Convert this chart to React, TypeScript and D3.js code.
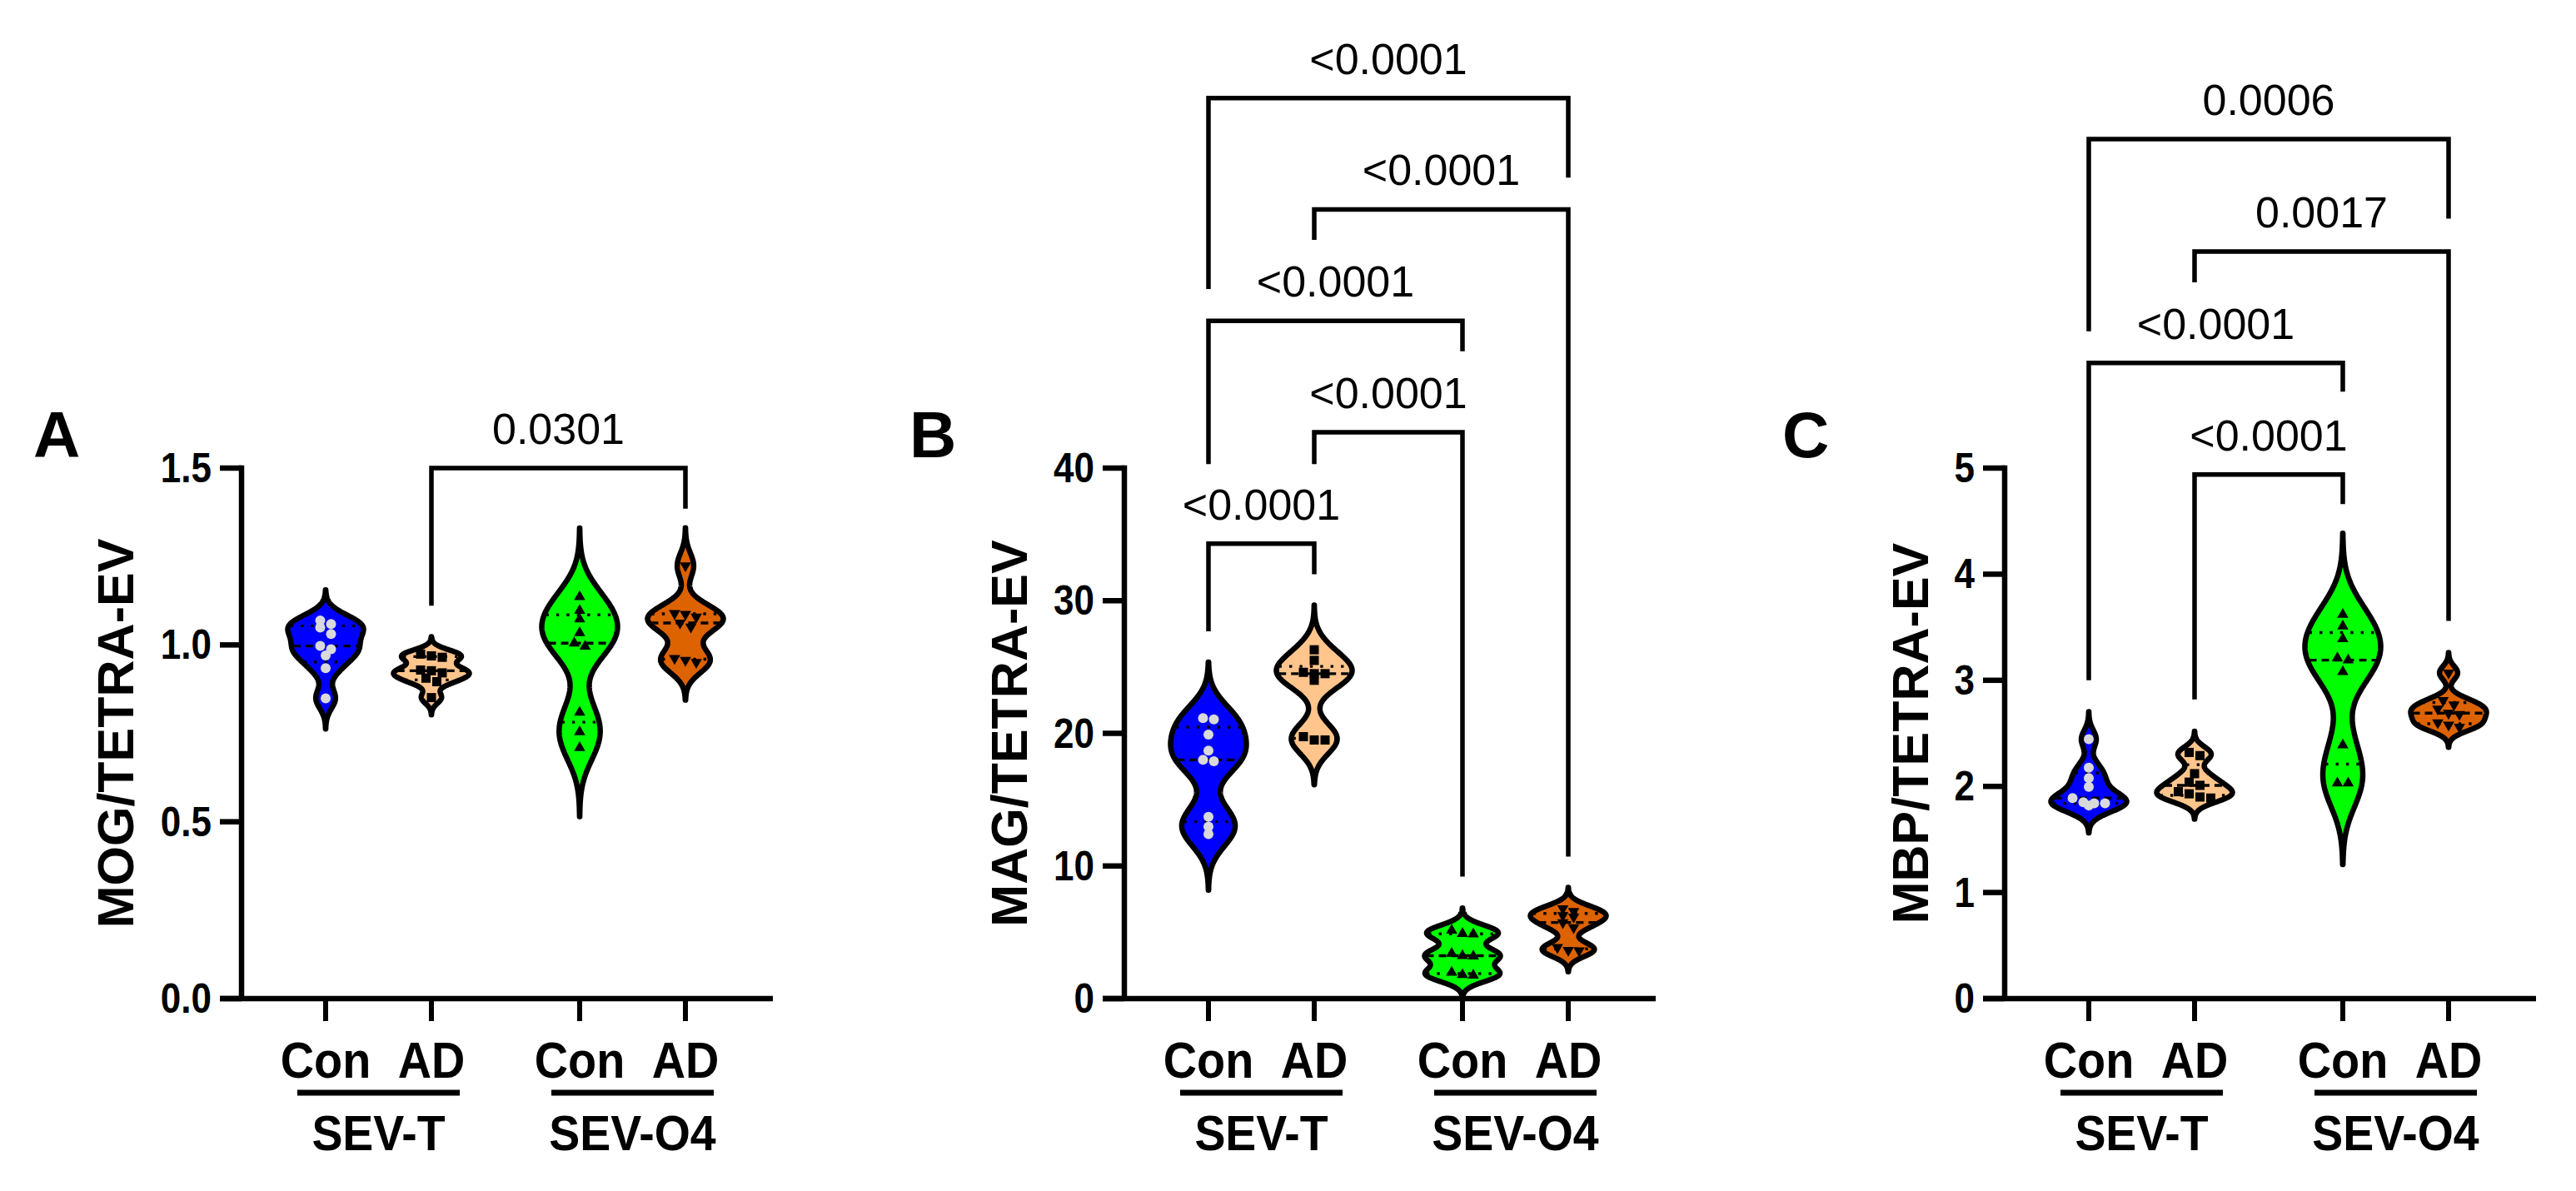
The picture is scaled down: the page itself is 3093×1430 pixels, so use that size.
import React from 'react';
import * as d3 from 'd3';

// groups on the x axis
const groups = ['SEV-T', 'SEV-O4'];
const conditions = ['Con', 'AD'];

// MOG / TETRA-EV (panel A), n = 9 per group
const mogConT = [1.069, 1.059, 1.049, 1.031, 0.997, 0.988, 0.97, 0.934, 0.849];
const mogAdT = [0.974, 0.969, 0.965, 0.929, 0.927, 0.921, 0.906, 0.896, 0.851];
const mogConO4 = [1.136, 1.097, 1.073, 1.034, 1.005, 0.996, 0.809, 0.754, 0.709];
const mogAdO4 = [1.224, 1.089, 1.087, 1.079, 1.062, 1.051, 0.962, 0.957, 0.951];

// MAG / TETRA-EV (panel B)
const magConT = [21.15, 21.05, 19.9, 18.7, 18.0, 17.9, 13.7, 12.97, 12.4];
const magAdT = [26.3, 25.5, 24.6, 24.5, 24.5, 24.0, 19.75, 19.5, 19.5];
const magConO4 = [5.15, 4.9, 4.86, 3.4, 3.23, 3.2, 1.97, 1.8, 1.76];
const magAdO4 = [6.79, 6.58, 6.27, 6.16, 5.74, 5.36, 3.86, 3.65, 3.62];

// MBP / TETRA-EV (panel C)
const mbpConT = [2.445, 2.176, 2.079, 1.995, 1.89, 1.85, 1.84, 1.84, 1.82];
const mbpAdT = [2.32, 2.29, 2.12, 2.04, 2.01, 1.95, 1.93, 1.9, 1.89];
const mbpConO4 = [3.62, 3.51, 3.39, 3.21, 3.19, 3.08, 2.39, 2.03, 2.03];
const mbpAdO4 = [3.07, 2.81, 2.77, 2.73, 2.69, 2.68, 2.6, 2.58, 2.56];

// y ticks
const mogTicks = [0, 0.5, 1.0, 1.5];
const magTicks = [0, 10, 20, 30, 40];
const mbpTicks = [0, 1, 2, 3, 4, 5];

// comparison brackets: category indexes, bracket top, leg ends (data units), p value
type Bracket = { a: number; b: number; top: number; endA: number; endB: number; p: string };
const mogBrackets: Bracket[] = [
  { a: 1, b: 3, top: 1.5, endA: 1.111, endB: 1.385, p: '0.0301' },
];
const magBrackets: Bracket[] = [
  { a: 0, b: 3, top: 67.9, endA: 53.5, endB: 61.9, p: '<0.0001' },
  { a: 1, b: 3, top: 59.5, endA: 57.2, endB: 10.7, p: '<0.0001' },
  { a: 0, b: 2, top: 51.1, endA: 40.3, endB: 48.8, p: '<0.0001' },
  { a: 1, b: 2, top: 42.7, endA: 40.3, endB: 9.2, p: '<0.0001' },
  { a: 0, b: 1, top: 34.3, endA: 27.7, endB: 32.0, p: '<0.0001' },
];
const mbpBrackets: Bracket[] = [
  { a: 0, b: 3, top: 8.1, endA: 6.29, endB: 7.35, p: '0.0006' },
  { a: 1, b: 3, top: 7.04, endA: 6.75, endB: 3.56, p: '0.0017' },
  { a: 0, b: 2, top: 5.99, endA: 3.0, endB: 5.72, p: '<0.0001' },
  { a: 1, b: 2, top: 4.94, endA: 2.82, endB: 4.66, p: '<0.0001' },
];

const fills = ['#0000FF', '#FFC58C', '#00FF00', '#DD6200'];
const FONT = '"Liberation Sans", Arial, Helvetica, sans-serif';
const W = 3093;
const H = 1430;
const Y_TOP = 562;
const Y_BOT = 1199;
const HALF_W = 45.5;

const panels = [
  { letter: 'A', yLabel: 'MOG/TETRA-EV', series: [mogConT, mogAdT, mogConO4, mogAdO4], ticks: mogTicks, fmt: d3.format('.1f'), brackets: mogBrackets, x0: 290, letterX: 40 },
  { letter: 'B', yLabel: 'MAG/TETRA-EV', series: [magConT, magAdT, magConO4, magAdO4], ticks: magTicks, fmt: d3.format('d'), brackets: magBrackets, x0: 1350, letterX: 1092 },
  { letter: 'C', yLabel: 'MBP/TETRA-EV', series: [mbpConT, mbpAdT, mbpConO4, mbpAdO4], ticks: mbpTicks, fmt: d3.format('d'), brackets: mbpBrackets, x0: 2407, letterX: 2140 },
];

// Prism style quantile, position (n+1)p
function quant(values: number[], p: number) {
  const a = [...values].sort((x, y) => x - y);
  const pos = (a.length + 1) * p;
  const lo = Math.max(1, Math.min(a.length, Math.floor(pos)));
  const hi = Math.min(a.length, lo + 1);
  const f = pos - Math.floor(pos);
  return a[lo - 1] + f * (a[hi - 1] - a[lo - 1]);
}

function violin(values: number[]) {
  const h = 0.41 * (d3.deviation(values) || 0.1);
  const lo = d3.min(values)! - 3 * h;
  const hi = d3.max(values)! + 3 * h;
  const dens = (v: number) => d3.sum(values, x => Math.exp(-0.5 * ((v - x) / h) ** 2));
  const grid = d3.range(0, 301).map(i => lo + ((hi - lo) * i) / 300);
  const mx = d3.max(grid, dens)!;
  return { pts: grid.map(v => [v, dens(v) / mx] as [number, number]), width: (v: number) => dens(v) / mx };
}

// spread overlapping points sideways, row by row
function swarm(values: number[], y: d3.ScaleLinear<number, number>) {
  const sorted = [...values].sort((a, b) => b - a);
  const out: { v: number; dx: number }[] = [];
  let row: number[] = [];
  const flush = () => {
    row.forEach((v, i) => out.push({ v, dx: (i - (row.length - 1) / 2) * 13 }));
    row = [];
  };
  sorted.forEach(v => {
    if (row.length && Math.abs(y(v) - y(row[0])) > 8) flush();
    row.push(v);
  });
  flush();
  return out;
}

function Marker({ kind, x, y }: { kind: number; x: number; y: number }) {
  if (kind === 0) return <circle cx={x} cy={y} r={6} fill="#D9D9D9" />;
  if (kind === 1) return <rect x={x - 5.5} y={y - 5.5} width={11} height={11} fill="#000" />;
  const d = d3.symbol(d3.symbolTriangle, 80)()!;
  return <path d={d} transform={`translate(${x},${y})${kind === 3 ? ' rotate(180)' : ''}`} fill="#000" />;
}

// condensed bold text, like the narrow Arial in the figure
function NText({ x, y, size, sx, anchor, children }: { x: number; y: number; size: number; sx: number; anchor: string; children: React.ReactNode }) {
  return (
    <text transform={`translate(${x},${y}) scale(${sx},1)`} textAnchor={anchor} fontSize={size} fontWeight="bold" fontFamily={FONT}>
      {children}
    </text>
  );
}

function Panel({ cfg }: { cfg: (typeof panels)[number] }) {
  const { x0 } = cfg;
  const y = d3.scaleLinear().domain([0, cfg.ticks[cfg.ticks.length - 1]]).range([Y_BOT, Y_TOP]);
  const outer = d3.scalePoint<string>().domain(groups).range([x0 + 164.5, x0 + 469.5]);
  const inner = d3.scalePoint<string>().domain(conditions).range([-63.5, 63.5]);
  const cats = groups.flatMap(g => conditions.map(c => outer(g)! + inner(c)!));
  const tickW = d3.max(cfg.ticks, t => cfg.fmt(t).split('').reduce((s, ch) => s + (ch === '.' ? 12.5 : 25), 0))!;
  const labelX = x0 - 36 - tickW - 53;

  return (
    <g>
      <text x={cfg.letterX} y={549} fontSize={78} fontWeight="bold" fontFamily={FONT}>{cfg.letter}</text>
      <text transform={`translate(${labelX},${(Y_TOP + Y_BOT) / 2}) rotate(-90)`} dy="0.36em" textAnchor="middle"
        fontSize={61} fontWeight="bold" fontFamily={FONT}>{cfg.yLabel}</text>

      {/* brackets */}
      {cfg.brackets.map((b, i) => {
        const xa = cats[b.a], xb = cats[b.b];
        return (
          <g key={i}>
            <path d={`M${xa},${y(b.endA)}V${y(b.top)}H${xb}V${y(b.endB)}`} fill="none" stroke="#000" strokeWidth={5.5} />
            <text x={(xa + xb) / 2} y={y(b.top) - 29} textAnchor="middle" fontSize={52} fontFamily={FONT}>{b.p}</text>
          </g>
        );
      })}

      {/* violins */}
      {cfg.series.map((vals, i) => {
        const cx = cats[i];
        const vio = violin(vals);
        const area = d3.area<[number, number]>()
          .y(d => y(d[0]))
          .x0(d => cx - HALF_W * d[1])
          .x1(d => cx + HALF_W * d[1]);
        const med = quant(vals, 0.5);
        const q1 = quant(vals, 0.25);
        const q3 = quant(vals, 0.75);
        const hl = (v: number) => Math.max(0, HALF_W * vio.width(v) - 2);
        return (
          <g key={i}>
            <path d={area(vio.pts)!} fill={fills[i]} stroke="#000" strokeWidth={6.5} strokeLinejoin="round" />
            {[q1, q3].map((q, k) => (
              <line key={k} x1={cx - hl(q)} x2={cx + hl(q)} y1={y(q)} y2={y(q)} stroke="#000" strokeWidth={3.4} strokeDasharray="3.4 9" />
            ))}
            <line x1={cx - hl(med)} x2={cx + hl(med)} y1={y(med)} y2={y(med)} stroke="#000" strokeWidth={3.4} strokeDasharray="9 6" />
            {swarm(vals, y).map((p, k) => (
              <Marker key={k} kind={i} x={cx + p.dx} y={y(p.v)} />
            ))}
          </g>
        );
      })}

      {/* axes */}
      <line x1={x0} x2={x0} y1={Y_TOP - 3.25} y2={Y_BOT} stroke="#000" strokeWidth={6.5} />
      <line x1={x0 - 26} x2={x0 + 638} y1={Y_BOT} y2={Y_BOT} stroke="#000" strokeWidth={6.5} />
      {cfg.ticks.map(t => (
        <g key={t}>
          <line x1={x0 - 26} x2={x0} y1={y(t)} y2={y(t)} stroke="#000" strokeWidth={6.5} />
          <NText x={x0 - 36} y={y(t) + 17} size={50} sx={0.88} anchor="end">{cfg.fmt(t)}</NText>
        </g>
      ))}
      {cats.map((cx, i) => (
        <g key={i}>
          <line x1={cx} x2={cx} y1={Y_BOT} y2={Y_BOT + 27} stroke="#000" strokeWidth={6} />
          <NText x={cx} y={1294} size={62} sx={0.9} anchor="middle">{conditions[i % 2]}</NText>
        </g>
      ))}
      {groups.map((g, gi) => (
        <g key={g}>
          <line x1={cats[gi * 2] - 34} x2={cats[gi * 2 + 1] + 34} y1={1312} y2={1312} stroke="#000" strokeWidth={7} />
          <NText x={outer(g)!} y={1381} size={59} sx={0.94} anchor="middle">{g}</NText>
        </g>
      ))}
    </g>
  );
}

export default function App() {
  return (
    <svg width={W} height={H} viewBox={`0 0 ${W} ${H}`}
      style={{ position: 'absolute', left: 0, top: 0, display: 'block', background: '#fff' }}>
      <rect width={W} height={H} fill="#fff" />
      {panels.map(p => <Panel key={p.letter} cfg={p} />)}
    </svg>
  );
}
